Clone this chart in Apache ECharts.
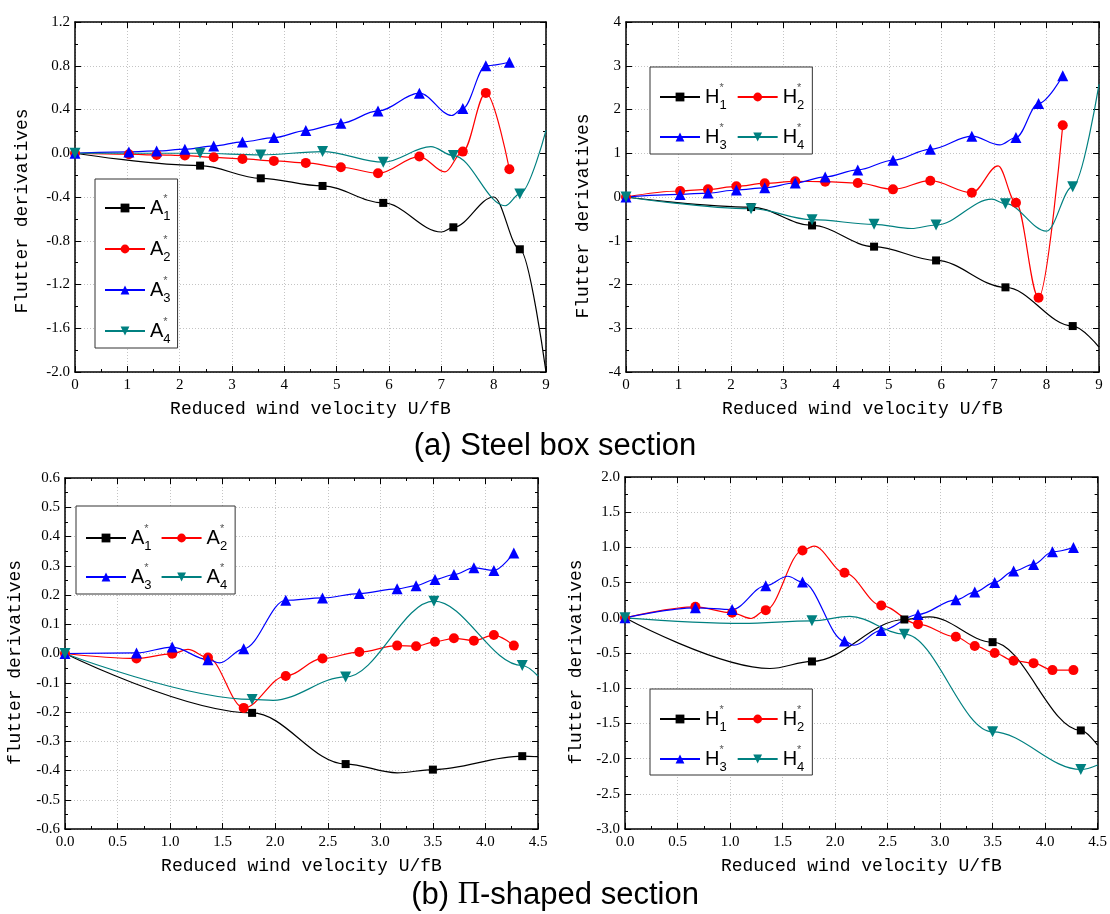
<!DOCTYPE html>
<html>
<head>
<meta charset="utf-8">
<script src="https://cdn.jsdelivr.net/npm/echarts@6.0.0/dist/echarts.min.js"></script>
<style>
  html, body { margin: 0; padding: 0; background: #fff; }
  #chart { width: 1110px; height: 914px; }
</style>
</head>
<body>
<div id="chart"></div>
<script>
// (a) steel box section - moment derivatives A1*..A4*  [U/fB, value]
const boxA1 = [[0, 0], [2.39, -0.113], [3.55, -0.229], [4.73, -0.299], [5.89, -0.454], [7.23, -0.677], [8.5, -0.878]]
const boxA2 = [[0, 0], [1.03, -0.009], [1.56, -0.015], [2.1, -0.021], [2.65, -0.037], [3.2, -0.052], [3.8, -0.07], [4.41, -0.088], [5.08, -0.128], [5.79, -0.183], [6.58, -0.03], [7.41, 0.015], [7.85, 0.552], [8.3, -0.146]]
const boxA3 = [[0, 0], [1.03, 0.012], [1.56, 0.021], [2.1, 0.037], [2.65, 0.067], [3.2, 0.104], [3.8, 0.143], [4.41, 0.207], [5.08, 0.274], [5.79, 0.387], [6.58, 0.549], [7.41, 0.409], [7.85, 0.8], [8.3, 0.832]]
const boxA4 = [[0, 0], [2.39, 0.0], [3.55, -0.015], [4.73, 0.015], [5.89, -0.082], [7.23, -0.021], [8.5, -0.372]]
// spline turning points (no marker drawn)
const boxA1Curve = [[7.0, -0.72], [8.0, -0.4], [9.0, -2.0]]
const boxA2Curve = [[7.07, -0.17]]
const boxA3Curve = [[7.2, 0.345]]
const boxA4Curve = [[6.8, 0.06], [8.22, -0.48], [9.0, 0.21]]

// (a) steel box section - lift derivatives H1*..H4*
const boxH1 = [[0, 0], [2.38, -0.23], [3.54, -0.65], [4.72, -1.135], [5.9, -1.45], [7.22, -2.065], [8.5, -2.95]]
const boxH2 = [[0, 0], [1.03, 0.137], [1.56, 0.175], [2.1, 0.244], [2.64, 0.312], [3.22, 0.358], [3.79, 0.35], [4.41, 0.32], [5.08, 0.175], [5.79, 0.373], [6.58, 0.099], [7.42, -0.13], [7.85, -2.3], [8.31, 1.638]]
const boxH3 = [[0, 0], [1.03, 0.06], [1.56, 0.09], [2.1, 0.16], [2.64, 0.21], [3.22, 0.32], [3.79, 0.46], [4.41, 0.62], [5.08, 0.84], [5.79, 1.09], [6.58, 1.39], [7.42, 1.36], [7.85, 2.14], [8.31, 2.77]]
const boxH4 = [[0, 0], [2.38, -0.267], [3.54, -0.518], [4.72, -0.625], [5.9, -0.64], [7.22, -0.152], [8.5, 0.236]]
const boxH1Curve = [[9.0, -3.43]]
const boxH2Curve = [[7.08, 0.71]]
const boxH3Curve = [[7.11, 1.19]]
const boxH4Curve = [[5.43, -0.72], [6.96, -0.05], [8.0, -0.78], [9.0, 2.575]]

// (b) Pi-shaped section - moment derivatives
const piA1 = [[0, 0], [1.78, -0.203], [2.67, -0.378], [3.5, -0.397], [4.35, -0.351]]
const piA2 = [[0, 0], [0.68, -0.017], [1.02, -0.001], [1.36, -0.014], [1.7, -0.186], [2.1, -0.077], [2.45, -0.017], [2.8, 0.005], [3.16, 0.027], [3.34, 0.025], [3.52, 0.04], [3.7, 0.052], [3.89, 0.044], [4.08, 0.063], [4.27, 0.027]]
const piA3 = [[0, 0], [0.68, 0.002], [1.02, 0.022], [1.36, -0.021], [1.7, 0.016], [2.1, 0.182], [2.45, 0.19], [2.8, 0.205], [3.16, 0.221], [3.34, 0.232], [3.52, 0.253], [3.7, 0.27], [3.89, 0.293], [4.08, 0.284], [4.27, 0.344]]
const piA4 = [[0, 0], [1.78, -0.157], [2.67, -0.08], [3.51, 0.179], [4.35, -0.041]]
const piA1Curve = [[3.16, -0.408], [4.5, -0.353]]
const piA2Curve = [[1.17, 0.014]]
const piA3Curve = [[1.47, -0.032]]
const piA4Curve = [[1.98, -0.16], [4.5, -0.077]]

// (b) Pi-shaped section - lift derivatives
const piH1 = [[0, 0], [1.78, -0.62], [2.66, -0.024], [3.5, -0.346], [4.34, -1.6]]
const piH2 = [[0, 0], [0.67, 0.156], [1.02, 0.071], [1.34, 0.109], [1.69, 0.956], [2.09, 0.639], [2.44, 0.175], [2.79, -0.09], [3.15, -0.27], [3.33, -0.4], [3.52, -0.5], [3.7, -0.61], [3.89, -0.644], [4.07, -0.743], [4.27, -0.743]]
const piH3 = [[0, 0], [0.67, 0.142], [1.02, 0.118], [1.34, 0.455], [1.69, 0.507], [2.09, -0.331], [2.44, -0.18], [2.79, 0.047], [3.15, 0.256], [3.33, 0.365], [3.52, 0.502], [3.7, 0.663], [3.89, 0.758], [4.07, 0.938], [4.27, 0.999]]
const piH4 = [[0, 0], [1.78, -0.043], [2.66, -0.232], [3.5, -1.62], [4.34, -2.155]]
const piH1Curve = [[1.38, -0.72], [2.9, 0.014], [4.5, -1.81]]
const piH2Curve = [[1.2, -0.01], [1.8, 1.018]]
const piH3Curve = [[1.55, 0.59], [2.18, -0.39]]
const piH4Curve = [[1.12, -0.08], [2.14, 0.02], [4.5, -2.09]]

// axis ranges per panel
const xMax = [9, 9, 4.5, 4.5]
const xStep = [1, 1, 0.5, 0.5]
const xDec = [0, 0, 1, 1]
const yMin = [-2.0, -4, -0.6, -3.0]
const yMax = [1.2, 4, 0.6, 2.0]
const yStep = [0.4, 1, 0.1, 0.5]
const yDec = [1, 0, 1, 1]
const yTitles = ['Flutter derivatives', 'Flutter derivatives', 'flutter derivatives', 'flutter derivatives']
const xTitle = 'Reduced wind velocity U/fB'

const colors = ['#000000', '#ff0000', '#0000ff', '#008080']
const symbols = ['rect', 'circle', 'triangle', 'triangle']
const symbolSizes = [8, 10, 11, 11]
const symbolRot = [0, 0, 0, 180]

const grids = [
  { left: 75, top: 22, width: 471, height: 350 },
  { left: 626, top: 22, width: 473, height: 350 },
  { left: 65, top: 478, width: 473, height: 351 },
  { left: 625, top: 477, width: 474, height: 352 }
]
const yNameGap = [44, 34, 41, 40]
// y titles sit a little below the middle of each plot
const yNamePad = [[0, 28, 0, 0], [0, 38, 0, 0], [0, 18, 0, 0], [0, 18, 0, 0]]

const tickFont = { fontFamily: 'Liberation Serif', fontSize: 15, color: '#000' }
const titleFont = { fontFamily: 'Liberation Mono', fontSize: 18, color: '#000' }
const axisLine = { onZero: false, lineStyle: { color: '#000', width: 1.5 } }
const axisTick = { inside: true, length: 6, lineStyle: { color: '#000', width: 1 } }
const minorTick = { show: true, splitNumber: 2, length: 3, lineStyle: { color: '#000', width: 1 } }
const gridLine = { show: true, lineStyle: { color: '#c4c4c4', type: [1, 2], width: 1 } }

const xAxis = []
const yAxis = []
grids.forEach((g, i) => {
  xAxis.push({
    type: 'value', gridIndex: i, position: 'bottom', min: 0, max: xMax[i], interval: xStep[i],
    axisLine, axisTick, minorTick, splitLine: gridLine,
    axisLabel: { ...tickFont, margin: 6, formatter: (v) => v.toFixed(xDec[i]) },
    name: xTitle, nameLocation: 'middle', nameGap: 28, nameTextStyle: titleFont
  })
  xAxis.push({
    type: 'value', gridIndex: i, position: 'top', min: 0, max: xMax[i], interval: xStep[i],
    axisLine, axisTick, minorTick, splitLine: { show: false }, axisLabel: { show: false }
  })
  yAxis.push({
    type: 'value', gridIndex: i, position: 'left', min: yMin[i], max: yMax[i], interval: yStep[i],
    axisLine, axisTick, minorTick, splitLine: gridLine,
    axisLabel: { ...tickFont, margin: 5, formatter: (v) => v.toFixed(yDec[i]) },
    name: yTitles[i], nameLocation: 'middle', nameGap: yNameGap[i], nameRotate: 90,
    nameTextStyle: { ...titleFont, padding: yNamePad[i] }
  })
  yAxis.push({
    type: 'value', gridIndex: i, position: 'right', min: yMin[i], max: yMax[i], interval: yStep[i],
    axisLine, axisTick, minorTick, splitLine: { show: false }, axisLabel: { show: false }
  })
})

function makeSeries(name, pts, curve, panel, k) {
  const data = pts.map((p) => ({ value: p }))
    .concat(curve.map((p) => ({ value: p, symbol: 'none' })))
    .sort((a, b) => a.value[0] - b.value[0])
  return {
    type: 'line',
    name: name,
    xAxisIndex: panel * 2,
    yAxisIndex: panel * 2,
    data: data,
    smooth: 0.35,
    smoothMonotone: 'x',
    symbol: symbols[k],
    symbolSize: symbolSizes[k],
    symbolRotate: symbolRot[k],
    showAllSymbol: true,
    lineStyle: { color: colors[k], width: 1.2 },
    itemStyle: { color: colors[k] },
    z: 3
  }
}

const series = [
  makeSeries('a:A1', boxA1, boxA1Curve, 0, 0),
  makeSeries('a:A2', boxA2, boxA2Curve, 0, 1),
  makeSeries('a:A3', boxA3, boxA3Curve, 0, 2),
  makeSeries('a:A4', boxA4, boxA4Curve, 0, 3),
  makeSeries('a:H1', boxH1, boxH1Curve, 1, 0),
  makeSeries('a:H2', boxH2, boxH2Curve, 1, 1),
  makeSeries('a:H3', boxH3, boxH3Curve, 1, 2),
  makeSeries('a:H4', boxH4, boxH4Curve, 1, 3),
  makeSeries('b:A1', piA1, piA1Curve, 2, 0),
  makeSeries('b:A2', piA2, piA2Curve, 2, 1),
  makeSeries('b:A3', piA3, piA3Curve, 2, 2),
  makeSeries('b:A4', piA4, piA4Curve, 2, 3),
  makeSeries('b:H1', piH1, piH1Curve, 3, 0),
  makeSeries('b:H2', piH2, piH2Curve, 3, 1),
  makeSeries('b:H3', piH3, piH3Curve, 3, 2),
  makeSeries('b:H4', piH4, piH4Curve, 3, 3)
]

const legendBase = {
  itemWidth: 40,
  itemHeight: 11,
  selectedMode: false,
  backgroundColor: '#fff',
  borderColor: '#333',
  borderWidth: 1,
  formatter: (n) => {
    const s = n.split(':')[1]
    return '{m|' + s[0] + '}{p|*}{s|' + s[1] + '}'
  },
  textStyle: {
    color: '#000',
    rich: {
      m: { fontFamily: 'Liberation Sans', fontSize: 20, lineHeight: 30, color: '#000' },
      p: { fontFamily: 'Liberation Sans', fontSize: 11, width: 0, verticalAlign: 'top', color: '#555' },
      s: { fontFamily: 'Liberation Sans', fontSize: 13, verticalAlign: 'bottom', color: '#000' }
    }
  }
}

const legend = [
  { ...legendBase, data: ['a:A1', 'a:A2', 'a:A3', 'a:A4'], orient: 'vertical', left: 95, top: 179, padding: [14, 7, 2, 9], itemGap: 11 },
  { ...legendBase, data: ['a:H1', 'a:H2', 'a:H3', 'a:H4'], orient: 'horizontal', left: 650, top: 67, width: 155, padding: [15, 8, 2, 9], itemGap: 10 },
  { ...legendBase, data: ['b:A1', 'b:A2', 'b:A3', 'b:A4'], orient: 'horizontal', left: 76, top: 506, width: 155, padding: [17, 8, 2, 9], itemGap: 9 },
  { ...legendBase, data: ['b:H1', 'b:H2', 'b:H3', 'b:H4'], orient: 'horizontal', left: 650, top: 689, width: 155, padding: [15, 8, 1, 9], itemGap: 10 }
]

const option = {
  animation: false,
  backgroundColor: '#fff',
  grid: grids,
  xAxis: xAxis,
  yAxis: yAxis,
  legend: legend,
  series: series,
  graphic: [
    {
      type: 'text', x: 555, y: 446,
      style: { text: '(a) Steel box section', fontFamily: 'Liberation Sans', fontSize: 31, fill: '#000', align: 'center', verticalAlign: 'middle' }
    },
    {
      type: 'text', x: 555, y: 895,
      style: {
        text: '(b) {pi|Π}-shaped section', fontFamily: 'Liberation Sans', fontSize: 31, fill: '#000', align: 'center', verticalAlign: 'middle',
        rich: { pi: { fontFamily: 'Liberation Serif', fontSize: 31, fill: '#000' } }
      }
    }
  ]
}

const myChart = echarts.init(document.getElementById('chart'))
myChart.setOption(option, true)
</script>
</body>
</html>
